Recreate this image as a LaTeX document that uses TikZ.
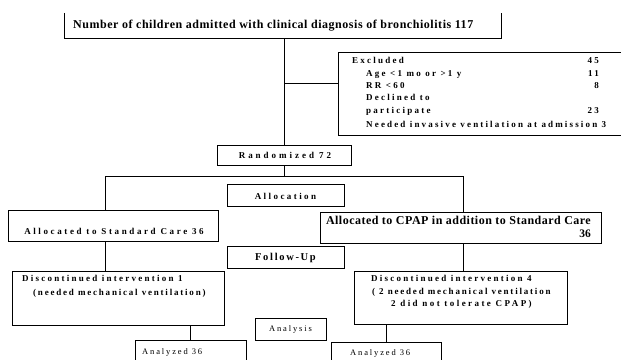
\documentclass[tikz,border=0pt]{standalone}
\usepackage{fontspec}
\setmainfont{Liberation Serif}
\usetikzlibrary{shadows}
\begin{document}
\begin{tikzpicture}[x=1pt,y=-1pt,
  box/.style={draw, line width=0.6pt, fill=white, inner sep=0pt,
    drop shadow={shadow xshift=1pt, shadow yshift=-1pt, opacity=1, fill=black}},
  thinbox/.style={draw, line width=0.6pt, fill=white, inner sep=0pt,
    drop shadow={shadow xshift=0.8pt, shadow yshift=-0.8pt, opacity=0.5, fill=black}},
  lsb/.style={inner sep=0pt, font=\fontsize{9}{10}\selectfont\bfseries\addfontfeature{LetterSpace=#1}},
  lsb/.default=25,
  lsr/.style={inner sep=0pt, font=\fontsize{8.5}{9}\selectfont\addfontfeature{LetterSpace=22}},
  big/.style={inner sep=0pt, font=\fontsize{12}{13}\selectfont\bfseries\addfontfeature{LetterSpace=4.5}},
  conn/.style={line width=0.8pt}
]
\useasboundingbox (0,0) rectangle (621,359);
\clip (0,0) rectangle (621,359);
\fill[white] (0,0) rectangle (621,359);

% boxes
\node[inner sep=0pt, minimum width=436pt, minimum height=25pt] (top) at (283,25.5) {};
\draw[line width=1.3pt] (top.north west) -- (top.south west) -- (top.south east) -- (top.north east);
\node[thinbox, minimum width=302pt, minimum height=83pt] (excl) at (489,93.5) {};
\node[box, minimum width=134pt, minimum height=20pt] (rand) at (284,155) {};
\node[box, minimum width=117pt, minimum height=22pt] (alloc) at (285.5,195) {};
\node[box, minimum width=210pt, minimum height=31pt] (std) at (113,225.5) {};
\node[box, minimum width=281pt, minimum height=31pt] (cpap) at (460.5,227.5) {};
\node[box, minimum width=117pt, minimum height=22pt] (follow) at (285.5,257) {};
\node[thinbox, minimum width=212pt, minimum height=54pt] (disc1) at (118,298) {};
\node[thinbox, minimum width=213pt, minimum height=53pt] (disc2) at (460.5,297.5) {};
\node[box, minimum width=71pt, minimum height=22pt] (analysis) at (290.5,329) {};
\node[thinbox, minimum width=111pt, minimum height=40pt] (an1) at (190.5,360) {};
\node[thinbox, minimum width=110pt, minimum height=40pt] (an2) at (386,362) {};

% connectors
\coordinate (ej) at (338,83);
\coordinate (bl) at (105,176);
\coordinate (bR) at (463,176);
\draw[conn] (rand.north |- top.south) -- (rand.north);
\draw[conn] (rand.north |- ej) -- (ej);
\draw[conn] (rand.south) -- (rand.south |- bl);
\draw[conn] (bl |- std.north) -- (bl) -- (bR) -- (bR |- cpap.north);
\draw[conn] (bl |- std.south) -- (bl |- disc1.north);
\draw[conn] (bR |- cpap.south) -- (bR |- disc2.north);
\draw[conn] (an1.north |- disc1.south) -- (an1.north);
\draw[conn] (an2.north |- disc2.south) -- (an2.north);

% texts
\node[big, anchor=base west] (ttop) at (73,28) {Number of children admitted with clinical diagnosis of bronchiolitis 117};

\node[lsb, anchor=base west] (e0) at (352,63) {Excluded};
\node[lsb, anchor=base east] (n0) at (599,63) {45};
\node[lsb, anchor=base west] (e1) at (366,76) {Age <1 mo or >1 y};
\node[lsb, anchor=base east] (n1) at (599,76) {11};
\node[lsb, anchor=base west] (e2) at (366,88) {RR <60};
\node[lsb, anchor=base east] (n2) at (599,88) {8};
\node[lsb, anchor=base west] (e3) at (366,100) {Declined to};
\node[lsb, anchor=base west] (e4) at (366,113) {participate};
\node[lsb, anchor=base east] (n4) at (599,113) {23};
\node[lsb=24, anchor=base west] (e5) at (366,127) {Needed invasive ventilation at admission 3};

\node[lsb=33, anchor=base] (trand) at (285,158) {Randomized 72};
\node[lsb=27, anchor=base] (talloc) at (285.5,199) {Allocation};
\node[lsb=29, anchor=base] (tstd) at (114,234) {Allocated to Standard Care 36};
\node[inner sep=0pt, font=\fontsize{12}{13}\selectfont\bfseries\addfontfeature{LetterSpace=4}, anchor=base east] (tcp1) at (591,224) {Allocated to CPAP in addition to Standard Care};
\node[inner sep=0pt, font=\fontsize{11.5}{13}\selectfont\bfseries, anchor=base east] (tcp2) at (591,237) {36};
\node[inner sep=0pt, font=\fontsize{10.5}{12}\selectfont\bfseries\addfontfeature{LetterSpace=16}, anchor=base] (tfollow) at (285.5,260) {Follow-Up};

\node[lsb, anchor=base west] (td1a) at (22,281) {Discontinued intervention 1};
\node[lsb=20, anchor=base west] (td1b) at (33,295) {(needed mechanical ventilation)};
\node[lsb, anchor=base west] (td2a) at (371,281) {Discontinued intervention 4};
\node[lsb=20, anchor=base west] (td2b) at (372,294) {( 2 needed mechanical ventilation};
\node[lsb=27, anchor=base west] (td2c) at (391,306) {2 did not tolerate CPAP)};

\node[lsr, anchor=base] (tana) at (290.5,331) {Analysis};
\node[lsr, anchor=base west] (tan1) at (142,354) {Analyzed 36};
\node[lsr, anchor=base west] (tan2) at (350,355) {Analyzed 36};
\end{tikzpicture}
\end{document}
